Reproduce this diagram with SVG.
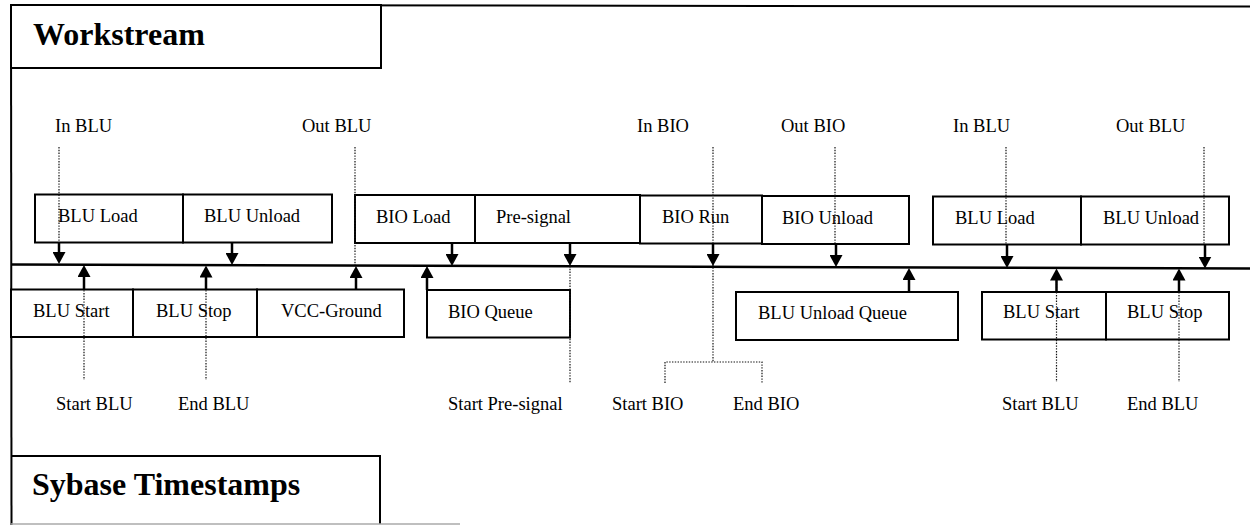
<svg xmlns="http://www.w3.org/2000/svg" width="1250" height="525" viewBox="0 0 1250 525">
<style>
  .box { fill: #fff; stroke: #000; stroke-width: 2; }
  .t { font-family: "Liberation Serif", "Times New Roman", serif; font-size: 18.5px; fill: #000; }
  .title { font-family: "Liberation Serif", "Times New Roman", serif; font-size: 32px; font-weight: bold; fill: #000; }
  .arrow { stroke: #000; stroke-width: 2.5; fill: none; marker-end: url(#ah); }
  .dot { stroke: #111; stroke-width: 1.2; stroke-dasharray: 1.4 1.4; fill: none; }
  .frame { stroke: #000; stroke-width: 2; fill: none; }
</style>
<defs>
  <marker id="ah" markerUnits="userSpaceOnUse" viewBox="0 0 12 13" refX="6" refY="6.5" markerWidth="12" markerHeight="13" orient="auto">
    <path d="M0,0 L12,6.5 L0,13 z" fill="#000"/>
  </marker>
</defs>
<rect x="0" y="0" width="1250" height="525" fill="#fff"/>

<g id="frame">
  <line class="frame" x1="11" y1="5" x2="1250" y2="6.5"/>
  <line class="frame" x1="11" y1="5" x2="11.5" y2="525"/>
</g>

<g id="workstream">
  <rect class="box" x="11" y="5" width="370" height="63"/>
  <text class="title" x="33" y="45">Workstream</text>
</g>

<g id="sybase">
  <path class="frame" d="M11.5,456 L380,456 L380,524"/>
  <line x1="11" y1="524" x2="460" y2="524" stroke="#aaa" stroke-width="1.5"/>
  <text class="title" x="32" y="495">Sybase Timestamps</text>
</g>

<g id="timeline">
  <line x1="11" y1="264.5" x2="1250" y2="268.5" stroke="#000" stroke-width="2.5"/>
</g>

<!-- Top row boxes -->
<g id="blu-load-1"><rect class="box" x="35" y="194.5" width="148" height="48"/><text class="t" x="58" y="222">BLU Load</text></g>
<g id="blu-unload-1"><rect class="box" x="183" y="194.5" width="149" height="48"/><text class="t" x="204" y="222">BLU Unload</text></g>
<g id="bio-load"><rect class="box" x="355" y="195" width="120" height="48"/><text class="t" x="376" y="223">BIO Load</text></g>
<g id="pre-signal"><rect class="box" x="475" y="195" width="165" height="48"/><text class="t" x="496" y="223">Pre-signal</text></g>
<g id="bio-run"><rect class="box" x="640" y="195.5" width="122" height="48"/><text class="t" x="662" y="223">BIO Run</text></g>
<g id="bio-unload"><rect class="box" x="762" y="196" width="147" height="48"/><text class="t" x="782" y="223.5">BIO Unload</text></g>
<g id="blu-load-2"><rect class="box" x="933" y="196.5" width="148" height="48"/><text class="t" x="955" y="224">BLU Load</text></g>
<g id="blu-unload-2"><rect class="box" x="1081" y="196.5" width="148" height="48"/><text class="t" x="1103" y="224">BLU Unload</text></g>

<!-- Bottom row boxes -->
<g id="blu-start-1"><rect class="box" x="11" y="289.5" width="122" height="47.5"/><text class="t" x="33" y="317">BLU Start</text></g>
<g id="blu-stop-1"><rect class="box" x="133" y="289.5" width="124" height="47.5"/><text class="t" x="156" y="317">BLU Stop</text></g>
<g id="vcc-ground"><rect class="box" x="257" y="289.5" width="147" height="47.5"/><text class="t" x="281" y="317">VCC-Ground</text></g>
<g id="bio-queue"><rect class="box" x="427" y="290" width="143" height="47.5"/><text class="t" x="448" y="317.5">BIO Queue</text></g>
<g id="blu-unload-queue"><rect class="box" x="736" y="292" width="222" height="48"/><text class="t" x="758" y="319">BLU Unload Queue</text></g>
<g id="blu-start-2"><rect class="box" x="982" y="292" width="124" height="47.5"/><text class="t" x="1003" y="318">BLU Start</text></g>
<g id="blu-stop-2"><rect class="box" x="1106" y="292" width="123" height="47.5"/><text class="t" x="1127" y="318">BLU Stop</text></g>

<!-- Milestone labels -->
<g id="lbl-in-blu-1"><text class="t" x="55" y="132">In BLU</text></g>
<g id="lbl-out-blu-1"><text class="t" x="302" y="132">Out BLU</text></g>
<g id="lbl-in-bio"><text class="t" x="637" y="132">In BIO</text></g>
<g id="lbl-out-bio"><text class="t" x="781" y="132">Out BIO</text></g>
<g id="lbl-in-blu-2"><text class="t" x="953" y="132">In BLU</text></g>
<g id="lbl-out-blu-2"><text class="t" x="1116" y="132">Out BLU</text></g>
<g id="lbl-start-blu-1"><text class="t" x="56" y="410">Start BLU</text></g>
<g id="lbl-end-blu-1"><text class="t" x="178" y="410">End BLU</text></g>
<g id="lbl-start-presignal"><text class="t" x="448" y="410">Start Pre-signal</text></g>
<g id="lbl-start-bio"><text class="t" x="612" y="410">Start BIO</text></g>
<g id="lbl-end-bio"><text class="t" x="733" y="410">End BIO</text></g>
<g id="lbl-start-blu-2"><text class="t" x="1002" y="410">Start BLU</text></g>
<g id="lbl-end-blu-2"><text class="t" x="1127" y="410">End BLU</text></g>

<g id="connectors">
  <!-- dotted milestone lines -->
  <line class="dot" x1="59" y1="147" x2="59" y2="243"/>
  <line class="dot" x1="355" y1="147" x2="355" y2="265"/>
  <path class="dot" d="M713,147 L713,362 M665,383 L665,362 L762,362 L762,383"/>
  <line class="dot" x1="835" y1="147" x2="835" y2="244"/>
  <line class="dot" x1="1006" y1="147" x2="1006" y2="245"/>
  <line class="dot" x1="1204" y1="147" x2="1204" y2="245"/>
  <line class="dot" x1="84" y1="279" x2="84" y2="380"/>
  <line class="dot" x1="206" y1="279" x2="206" y2="380"/>
  <line class="dot" x1="570" y1="266" x2="570" y2="383"/>
  <line class="dot" x1="1056.5" y1="281" x2="1056.5" y2="382"/>
  <line class="dot" x1="1179" y1="281" x2="1179" y2="382"/>
  <!-- down arrows -->
  <line class="arrow" x1="59" y1="243" x2="59" y2="258"/>
  <line class="arrow" x1="232" y1="243" x2="232" y2="259"/>
  <line class="arrow" x1="452" y1="243" x2="452" y2="260"/>
  <line class="arrow" x1="570" y1="243" x2="570" y2="260"/>
  <line class="arrow" x1="713" y1="243.5" x2="713" y2="260"/>
  <line class="arrow" x1="836" y1="244" x2="836" y2="261"/>
  <line class="arrow" x1="1007" y1="244.5" x2="1007" y2="262"/>
  <line class="arrow" x1="1205" y1="244.5" x2="1205" y2="262.5"/>
  <!-- up arrows -->
  <line class="arrow" x1="84" y1="289.5" x2="84" y2="271"/>
  <line class="arrow" x1="206" y1="289.5" x2="206" y2="271.5"/>
  <line class="arrow" x1="356" y1="289.5" x2="356" y2="272"/>
  <line class="arrow" x1="427" y1="290" x2="427" y2="272"/>
  <line class="arrow" x1="909" y1="292" x2="909" y2="274"/>
  <line class="arrow" x1="1056.5" y1="292" x2="1056.5" y2="274.5"/>
  <line class="arrow" x1="1179" y1="292" x2="1179" y2="274.5"/>
</g>
</svg>
